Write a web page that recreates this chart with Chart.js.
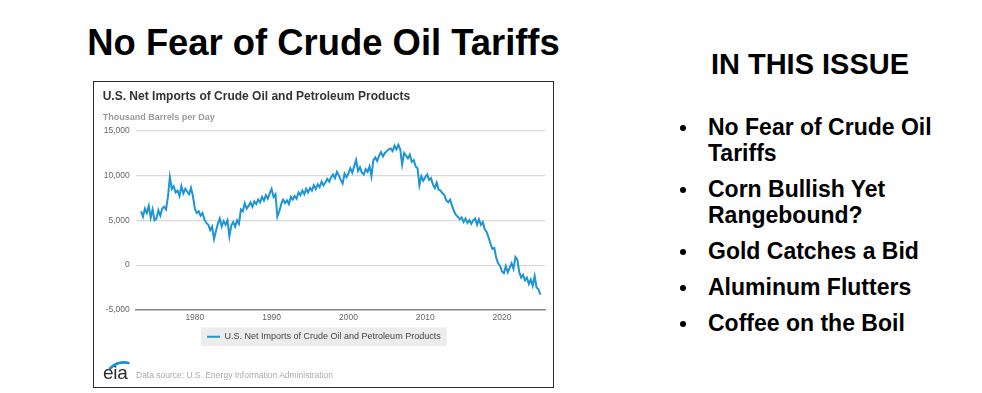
<!DOCTYPE html>
<html>
<head>
<meta charset="utf-8">
<script src="https://cdn.jsdelivr.net/npm/chart.js@4/dist/chart.umd.min.js"></script>
<style>
  html, body { margin: 0; padding: 0; background: #fff; }
  body { width: 982px; height: 393px; position: relative; overflow: hidden;
         font-family: "Liberation Sans", Arial, sans-serif; }
  #mainTitle { position: absolute; left: 0; width: 647px; top: 25.3px; text-align: center;
               font-size: 36.4px; line-height: 36.4px; font-weight: bold; color: #000; white-space: nowrap; }
  #issueTitle { position: absolute; left: 710px; width: 200px; top: 49.5px; text-align: center;
                font-size: 29px; line-height: 29px; font-weight: bold; color: #000; white-space: nowrap; }
  #issues { position: absolute; left: 708px; top: 114px; margin: 0; padding: 0; list-style: none; }
  #issues li { position: relative; font-size: 23px; line-height: 26px; font-weight: bold; color: #000;
               margin: 0 0 10px 0; white-space: nowrap; }
  #issues li::before { content: ""; position: absolute; left: -28px; top: 11px; width: 6px; height: 6px;
                       border-radius: 50%; background: #000; }
  #chartBox { position: absolute; left: 93px; top: 81px; width: 461px; height: 307px;
              box-sizing: border-box; border: 1px solid #2a2a2a; background: #fff; }
  #canvasWrap { position: absolute; left: 0; top: 0; width: 459px; height: 305px; }
  #eiaText { position: absolute; left: 9px; top: 281px; font-size: 19px; line-height: 19px; color: #2e2e2e;
             letter-spacing: -0.3px; }
  #eiaArc { position: absolute; left: 0; top: 0; }
  #source { position: absolute; left: 42px; top: 288px; font-size: 8.5px; line-height: 10px; color: #ababab;
            white-space: nowrap; }
</style>
</head>
<body>
<div id="mainTitle">No Fear of Crude Oil Tariffs</div>
<div id="issueTitle">IN THIS ISSUE</div>
<ul id="issues">
  <li>No Fear of Crude Oil<br>Tariffs</li>
  <li>Corn Bullish Yet<br>Rangebound?</li>
  <li>Gold Catches a Bid</li>
  <li>Aluminum Flutters</li>
  <li>Coffee on the Boil</li>
</ul>
<div id="chartBox">
  <div id="canvasWrap"><canvas id="chart"></canvas></div>
  <svg id="eiaArc" width="459" height="305"><path d="M16 286.5 Q24 278.5 34.5 281" fill="none" stroke="#1a8fd6" stroke-width="2.6" stroke-linecap="round"/></svg>
  <div id="eiaText">eia</div>
  <div id="source">Data source: U.S. Energy Information Administration</div>
</div>
<script>
// ---- Data (quarterly readings, thousand barrels per day) ----
const chartTitle = "U.S. Net Imports of Crude Oil and Petroleum Products";
const unitLabel = "Thousand Barrels per Day";
const seriesName = "U.S. Net Imports of Crude Oil and Petroleum Products";
const startYear = 1973;
const stepYears = 0.25;
const netImports = [
  6000, 5400, 6300, 5800,     // 1973
  6600, 5300, 6200, 5000,     // 1974
  5200, 6100, 5500, 6300,     // 1975
  6500, 6200, 7600, 9800,     // 1976
  8500, 8800, 8100, 8300,     // 1977
  7700, 8800, 8000, 8500,     // 1978
  8200, 7900, 8600, 7700,     // 1979
  6300, 5800, 6000, 5500,     // 1980
  5800, 5100, 4700, 4500,     // 1981
  3900, 4300, 2900, 3800,     // 1982
  4600, 5200, 4300, 4900,     // 1983
  4500, 5000, 3200, 4400,     // 1984
  4800, 4300, 5000, 4600,     // 1985
  6200, 6000, 6900, 6300,     // 1986
  6600, 7000, 6500, 7100,     // 1987
  6800, 7300, 7000, 7600,     // 1988
  7200, 7800, 7400, 8000,     // 1989
  8500, 7600, 7900, 5400,     // 1990
  6000, 6800, 7300, 6900,     // 1991
  7200, 6800, 7600, 7300,     // 1992
  7700, 7400, 8100, 7800,     // 1993
  8300, 7900, 8500, 8100,     // 1994
  8600, 8300, 8900, 8500,     // 1995
  9000, 8700, 9300, 8900,     // 1996
  9200, 9600, 9300, 9800,     // 1997
  10100, 9700, 10400, 10000,  // 1998
  9500, 9100, 10200, 9800,    // 1999
  10200, 10800, 10300, 11000, // 2000
  11700, 10500, 10900, 10300, // 2001
  10100, 10700, 10400, 11000, // 2002
  9900, 11700, 12000, 11600,  // 2003
  12200, 12600, 12100, 12500, // 2004
  12700, 12900, 13000, 12700, // 2005
  13300, 12900, 13400, 12900, // 2006
  11200, 12500, 12200, 11900, // 2007
  12300, 11500, 11700, 11000, // 2008
  10800, 8900, 9900, 9400,    // 2009
  9800, 10100, 9500, 9700,    // 2010
  9000, 8600, 9200, 8400,     // 2011
  8300, 8000, 7800, 7200,     // 2012
  7000, 7300, 6600, 6000,     // 2013
  5600, 5400, 5100, 5300,     // 2014
  4800, 5200, 4700, 5000,     // 2015
  4600, 5000, 5200, 4500,     // 2016
  5100, 4500, 4800, 4000,     // 2017
  3700, 3100, 2400, 1800,     // 2018
  1900, 800, 200, -100,       // 2019
  -700, -900, -100, -800,     // 2020
  -300, 200, -400, 900,       // 2021
  600, -800, -1400, -1100,    // 2022
  -1700, -1400, -2100, -1600, // 2023
  -2300, -1200, -2500, -2700, // 2024
  -3300                       // 2025
];
const xTickYears = [1980, 1990, 2000, 2010, 2020];
const yTickValues = [-5000, 0, 5000, 10000, 15000];

// ---- Build points ----
const points = netImports.map((v, i) => ({ x: startYear + i * stepYears, y: v }));

const FONT = '"Liberation Sans", Arial, sans-serif';
const LINE_COLOR = '#1c95d6';

const legendBg = {
  id: 'legendBg',
  beforeDraw(chart) {
    const lg = chart.legend;
    if (!lg || !lg.options.display) return;
    const ctx = chart.ctx;
    const lo = lg.options.labels;
    const fs = lo.font.size;
    ctx.save();
    ctx.font = `${fs}px ${FONT}`;
    const tw = ctx.measureText(seriesName).width;
    const itemW = lo.pointStyleWidth + fs / 2 + tw;
    const x0 = (lg.left + lg.right - itemW) / 2;
    const y0 = lg.top + lo.padding;
    ctx.fillStyle = '#ececec';
    ctx.fillRect(x0 - 6, y0 - 4.7, itemW + 12, fs + 9.4);
    ctx.restore();
  }
};

new Chart(document.getElementById('chart'), {
  type: 'line',
  data: {
    datasets: [{
      label: seriesName,
      data: points,
      borderColor: LINE_COLOR,
      backgroundColor: LINE_COLOR,
      borderWidth: 2,
      pointRadius: 0,
      tension: 0,
      fill: false
    }]
  },
  options: {
    responsive: true,
    maintainAspectRatio: false,
    animation: false,
    layout: { padding: { left: 8.7, right: 8, top: 0, bottom: 35.8 } },
    plugins: {
      title: {
        display: true, text: chartTitle, align: 'start', color: '#333',
        font: { family: FONT, size: 12, weight: 'bold' },
        padding: { top: 7.3, bottom: 0 }
      },
      subtitle: {
        display: true, text: unitLabel, align: 'start', color: '#9a9a9a',
        font: { family: FONT, size: 9, weight: 'bold' },
        padding: { top: 8.5, bottom: 7.5 }
      },
      legend: {
        display: true, position: 'bottom', align: 'center',
        labels: {
          usePointStyle: true, pointStyle: 'line', pointStyleWidth: 13,
          color: '#3d4650', padding: 8.2,
          font: { family: FONT, size: 9 }
        }
      },
      tooltip: { enabled: false }
    },
    scales: {
      x: {
        type: 'linear', min: 1972.3, max: 2025.6,
        afterFit(s) { s.height = 14; },
        afterBuildTicks(s) { s.ticks = xTickYears.map(v => ({ value: v })); },
        ticks: {
          includeBounds: false, color: '#666', padding: 3, maxRotation: 0,
          font: { family: FONT, size: 8.5 },
          callback: v => String(v)
        },
        grid: { display: false, drawTicks: false },
        border: { display: true, color: '#8a8a8a', width: 1.5 }
      },
      y: {
        min: -5000, max: 15000,
        afterFit(s) { s.width = 33; },
        afterBuildTicks(s) { s.ticks = yTickValues.map(v => ({ value: v })); },
        ticks: {
          color: '#666', padding: 6,
          font: { family: FONT, size: 8.5 },
          callback: v => Number(v).toLocaleString('en-US')
        },
        grid: { color: '#d9d9d9', lineWidth: 1.2, drawTicks: false },
        border: { display: false }
      }
    }
  },
  plugins: [legendBg]
});
</script>
</body>
</html>
